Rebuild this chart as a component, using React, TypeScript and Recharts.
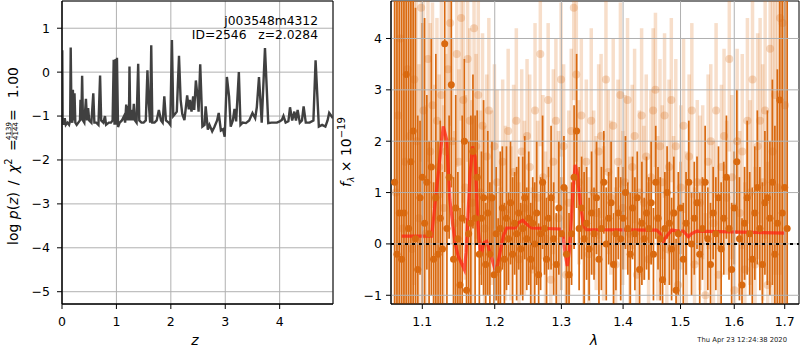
import React from 'react';
import {
  ComposedChart, LineChart, Line, Scatter, ErrorBar, XAxis, YAxis, CartesianGrid, ReferenceLine, ReferenceArea,
} from 'recharts';

const FONT = 'DejaVu Sans, sans-serif';
const ORANGE = '#d9690f';
const GRID = '#b0b0b0';

// ---- left panel: log p(z) ----
const zGrid = [
  0.0, 0.005, 0.012, 0.03, 0.05, 0.07, 0.1, 0.13, 0.15, 0.16,
  0.175, 0.19, 0.20, 0.215, 0.23, 0.245, 0.27, 0.3, 0.33, 0.34,
  0.355, 0.37, 0.385, 0.41, 0.44, 0.46, 0.48, 0.50, 0.54, 0.575,
  0.595, 0.63, 0.67, 0.70, 0.72, 0.76, 0.79, 0.81, 0.86, 0.90,
  0.93, 0.95, 0.965, 0.985, 0.995, 1.01, 1.03, 1.06, 1.1, 1.14,
  1.16, 1.18, 1.2, 1.215, 1.23, 1.24, 1.255, 1.28, 1.30, 1.32,
  1.34, 1.37, 1.40, 1.42, 1.46, 1.5, 1.54, 1.57, 1.59, 1.62,
  1.64, 1.66, 1.70, 1.74, 1.78, 1.82, 1.85, 1.88, 1.91, 1.96,
  1.99, 2.02, 2.045, 2.08, 2.11, 2.15, 2.18, 2.21, 2.25, 2.30,
  2.33, 2.35, 2.38, 2.41, 2.43, 2.46, 2.49, 2.51, 2.54, 2.58,
  2.62, 2.64, 2.68, 2.71, 2.76, 2.80, 2.85, 2.88, 2.92, 2.96,
  2.99, 3.03, 3.07, 3.10, 3.14, 3.17, 3.20, 3.25, 3.28, 3.32,
  3.38, 3.44, 3.50, 3.55, 3.58, 3.62, 3.67, 3.73, 3.79, 3.85,
  3.95, 4.0, 4.04, 4.07, 4.11, 4.16, 4.19, 4.23, 4.27, 4.30,
  4.33, 4.37, 4.41, 4.44, 4.48, 4.55, 4.62, 4.66, 4.72, 4.78,
  4.84, 4.88, 4.91, 4.95, 4.98,
];
const logPz = [
  -1.2, 0.5, -1.1, -1.2, -1.05, -1.2, -1.15, -1.2, -1.1, 0.56,
  -1.1, -1.15, -0.40, -1.1, -0.48, -1.15, -1.2, -1.15, -1.1, -0.63,
  -1.1, -0.08, -1.1, -1.15, -0.61, -1.1, -0.82, -1.1, -1.15, -0.48,
  -1.15, -1.15, -1.2, -0.08, -1.1, -1.15, -1.0, -1.2, -1.15, -1.15,
  -1.1, 0.28, -1.2, 0.30, -1.2, 0.33, -1.25, -1.15, -1.1, -1.0,
  -1.15, -0.74, -1.1, -0.77, -1.1, 0.13, -1.1, -0.86, -1.1, -0.72,
  -1.1, -1.15, 0.19, -1.1, -1.15, -1.15, -1.1, 0.04, -0.63, -1.15,
  0.61, -1.15, -1.15, -1.1, -0.86, -1.1, -1.15, -0.55, -1.1, -1.15,
  -1.2, 0.73, -1.0, -0.95, -0.9, 0.37, -0.63, -0.95, -1.09, -0.53,
  -0.85, -0.63, -0.9, -0.55, -0.86, -0.19, -0.55, -0.9, 0.18, -1.24,
  -1.2, -0.78, -1.31, -1.2, -1.35, -1.25, -1.1, -0.93, -1.33, -1.3,
  -1.47, -0.11, -0.55, -1.24, -1.1, -0.84, -1.12, 0.0, -1.2, -1.15,
  -1.16, -1.1, -0.93, -1.05, -0.8, -0.11, -1.15, 0.55, -1.16, -1.15,
  -1.15, -1.12, -1.09, -1.0, -1.15, -1.12, -0.8, -1.1, -0.9, -1.1,
  -0.86, -1.15, -1.1, -0.78, -1.15, -1.15, -1.1, 0.27, -1.24, -1.2,
  -1.24, -1.1, -0.93, -1.0, -1.05,
];
const zTicks = [0, 1, 2, 3, 4];
const lpTicks = [-5, -4, -3, -2, -1, 0, 1];

// ---- right panel: spectrum ----
const darkLam = [
  1.064, 1.067, 1.070, 1.073, 1.076, 1.079, 1.082, 1.085, 1.088, 1.091,
  1.094, 1.097, 1.100, 1.103, 1.106, 1.109, 1.112, 1.115, 1.118, 1.121,
  1.124, 1.127, 1.130, 1.133, 1.136, 1.139, 1.142, 1.145, 1.148, 1.151,
  1.154, 1.157, 1.160, 1.163, 1.166, 1.169, 1.172, 1.175, 1.178, 1.181,
  1.184, 1.187, 1.190, 1.193, 1.196, 1.199, 1.202, 1.205, 1.208, 1.211,
  1.214, 1.217, 1.220, 1.223, 1.226, 1.229, 1.232, 1.235, 1.238, 1.241,
  1.244, 1.247, 1.250, 1.253, 1.256, 1.259, 1.262, 1.265, 1.268, 1.271,
  1.274, 1.277, 1.280, 1.284, 1.288, 1.292, 1.296, 1.300, 1.304, 1.308,
  1.312, 1.316, 1.320, 1.324, 1.328, 1.332, 1.336, 1.340, 1.344, 1.348,
  1.352, 1.356, 1.360, 1.364, 1.368, 1.372, 1.376, 1.380, 1.384, 1.388,
  1.392, 1.396, 1.400, 1.404, 1.408, 1.412, 1.416, 1.420, 1.424, 1.428,
  1.432, 1.436, 1.440, 1.444, 1.448, 1.452, 1.456, 1.460, 1.464, 1.468,
  1.472, 1.476, 1.480, 1.484, 1.488, 1.492, 1.496, 1.500, 1.505, 1.510,
  1.515, 1.520, 1.525, 1.530, 1.535, 1.540, 1.545, 1.550, 1.555, 1.560,
  1.565, 1.570, 1.575, 1.580, 1.585, 1.590, 1.595, 1.600, 1.605, 1.610,
  1.615, 1.620, 1.625, 1.630, 1.635, 1.640, 1.645, 1.650, 1.655, 1.660,
  1.665, 1.670, 1.675, 1.680, 1.685, 1.690, 1.695, 1.700, 1.705,
];
const darkFlux = [
  1.2, -0.2, 0.6, -0.3, 0.6, 3.3, 0.3, 1.6, 2.2, 0.1,
  -0.5, 0.9, 1.3, 0.4, 1.2, 0.2, 1.5, -0.3, 0.9, -0.2,
  0.5, -0.1, 3.9, 0.3, 1.3, 3.1, -0.3, 0.7, 0.1, -0.8,
  0.5, 2.0, -0.9, 0.2, 0.4, 1.8, 0.5, 1.3, -0.2, 0.5,
  0.9, -0.4, 0.6, -0.2, 0.9, -0.6, 0.2, -0.5, 0.3, 0.7,
  -0.3, 0.5, 0.1, 0.8, -0.2, 0.4, 0.2, 0.6, -0.1, 0.3,
  0.9, 0.1, 0.5, -0.3, 0.4, 0.0, 0.6, -0.6, 0.2, 1.2,
  0.3, -0.3, 0.5, 0.9, 0.1, -0.4, 0.7, 0.2, 1.1, -0.2,
  -0.6, 0.2, 1.3, 2.2, 0.3, 0.7, 0.1, 0.4, -0.1, 0.6,
  0.2, 0.9, -0.3, 0.3, 1.2, 0.0, 0.5, 0.8, -0.4, 0.2,
  0.6, 0.1, 0.5, 1.0, 0.3, -0.2, 0.7, 0.2, 0.9, -0.5,
  0.4, 0.1, 0.6, 0.3, 0.8, -0.2, 1.2, 0.5, 0.1, -0.7,
  0.3, 1.0, 0.4, -0.1, 0.6, -0.9, 0.2, 0.7, -0.3, 0.4,
  1.2, 0.0, 0.5, 0.8, -0.2, 0.3, 1.2, 0.1, -0.4, 0.6,
  0.2, 0.9, -0.1, 0.5, 1.3, 0.3, -0.5, 0.7, 1.6, 0.1,
  -0.8, 0.4, 0.9, 0.2, -0.3, 0.6, 1.1, 0.3, -0.4, 0.8,
  0.9, 0.5, 1.2, -0.2, 0.4, 2.8, 0.6, 1.1, 0.3,
];
const darkErr = [
  6, 6, 5, 6, 5.5, 6, 5, 4, 5, 4.5,
  3, 1.5, 3, 4, 1.7, 1.8, 2.5, 1.5, 2.8, 2.2,
  1.9, 1.5, 2.5, 1.7, 1.2, 2.0, 1.6, 2.2, 1.3, 1.5,
  2.0, 1.6, 1.4, 1.8, 2.1, 1.5, 2.0, 1.3, 1.7, 1.3,
  1.9, 1.2, 1.6, 1.4, 1.1, 1.5, 1.3, 1.0, 1.5, 1.2,
  1.1, 1.4, 0.9, 1.2, 1.5, 1.0, 1.3, 1.1, 0.9, 1.4,
  1.2, 1.0, 1.3, 1.1, 0.9, 1.2, 1.4, 1.0, 1.1, 1.3,
  0.9, 1.2, 1.0, 1.4, 1.1, 1.0, 1.3, 1.1, 1.0, 1.3,
  1.2, 1.0, 1.4, 1.5, 1.2, 1.0, 1.3, 1.1, 1.0, 1.2,
  0.9, 1.1, 1.0, 1.2, 1.0, 1.1, 0.9, 1.2, 1.0, 1.1,
  0.9, 1.2, 1.0, 1.1, 0.9, 1.2, 1.0, 1.1, 0.9, 1.0,
  1.2, 0.8, 1.1, 1.0, 1.2, 0.9, 1.1, 1.0, 1.2, 1.0,
  1.1, 0.9, 1.2, 1.0, 1.1, 1.0, 1.2, 0.9, 1.1, 1.0,
  1.2, 1.0, 1.1, 0.9, 1.2, 1.0, 1.1, 1.0, 1.2, 0.9,
  1.1, 1.0, 1.3, 1.1, 1.2, 1.0, 1.3, 1.1, 1.4, 1.2,
  1.3, 1.1, 1.5, 1.2, 1.4, 1.3, 1.5, 1.2, 1.6, 1.4,
  1.7, 1.5, 2.0, 2.5, 3, 4, 5, 6, 6,
];

const lightLam = [
  1.0655, 1.0685, 1.0715, 1.0745, 1.0775, 1.0805, 1.0835, 1.0865, 1.0895, 1.0925,
  1.0955, 1.0985, 1.1015, 1.1045, 1.1075, 1.1105, 1.1135, 1.1165, 1.1195, 1.1225,
  1.1255, 1.1285, 1.1315, 1.1345, 1.1375, 1.1405, 1.1435, 1.1465, 1.1495, 1.1525,
  1.1555, 1.1585, 1.1615, 1.1645, 1.1675, 1.1705, 1.1735, 1.1765, 1.1795, 1.1825,
  1.1855, 1.1885, 1.1915, 1.1955, 1.1995, 1.2035, 1.2075, 1.2115, 1.2155, 1.2195,
  1.2235, 1.2275, 1.2315, 1.2355, 1.2395, 1.2435, 1.2475, 1.2515, 1.2555, 1.2595,
  1.2635, 1.2675, 1.2715, 1.2755, 1.2795, 1.2835, 1.2875, 1.2915, 1.2955, 1.2995,
  1.3035, 1.3075, 1.3115, 1.3155, 1.3195, 1.3235, 1.3275, 1.3315, 1.3355, 1.3395,
  1.3435, 1.3475, 1.3515, 1.3555, 1.3595, 1.3635, 1.3675, 1.3715, 1.3755, 1.3795,
  1.3835, 1.3875, 1.3915, 1.3955, 1.3995, 1.4035, 1.4075, 1.4115, 1.4155, 1.4195,
  1.4235, 1.4275, 1.4315, 1.4355, 1.4395, 1.4435, 1.4475, 1.4515, 1.4555, 1.4595,
  1.4635, 1.4675, 1.4715, 1.4755, 1.4795, 1.4835, 1.4875, 1.4915, 1.4955, 1.5005,
  1.5055, 1.5105, 1.5155, 1.5205, 1.5255, 1.5305, 1.5355, 1.5405, 1.5455, 1.5505,
  1.5555, 1.5605, 1.5655, 1.5705, 1.5755, 1.5805, 1.5855, 1.5905, 1.5955, 1.6005,
  1.6055, 1.6105, 1.6155, 1.6205, 1.6255, 1.6305, 1.6355, 1.6405, 1.6455, 1.6505,
  1.6555, 1.6605, 1.6655, 1.6705, 1.6755, 1.6805, 1.6855, 1.6905, 1.6955, 1.7005,
];
const lightFlux = [
  1.0, 2.5, 4.0, 0.3, 1.6, 3.4, 2.1, -0.1, 3.2, 2.0,
  0.5, 4.6, 2.6, 0.2, 3.6, 1.8, 2.7, 0.9, 2.4, 1.5,
  2.9, 0.7, 1.8, 3.4, 4.3, 2.0, 0.4, 3.7, 1.6, 4.4,
  2.8, 1.1, 3.6, 2.4, 0.8, 4.2, 1.9, 2.9, 1.0, 2.3,
  0.3, 1.7, 2.6, 0.9, 1.9, 1.2, -0.4, 1.6, 0.6, 2.2,
  0.4, 1.4, 2.4, -0.3, 1.8, 0.7, 2.1, 1.5, -0.5, 2.6,
  0.9, 3.7, 1.3, 0.1, 2.8, -0.7, 1.6, 2.4, 0.5, 3.2,
  1.9, -0.6, 0.8, 2.2, 4.6, 3.3, 1.2, 2.5, 0.3, 1.6,
  -0.2, 2.4, 1.0, 0.6, 1.8, 2.1, 0.4, 3.2, 1.4, 0.9,
  2.3, -0.4, 1.6, 2.9, 0.7, 1.2, 2.8, 0.2, 1.5, 2.1,
  -0.6, 1.0, 2.5, 0.8, 1.7, -0.3, 1.3, 2.6, 3.0, 0.5,
  1.9, 1.2, 2.5, -0.1, 1.5, 2.8, 0.6, 1.9, -0.8, 1.1,
  2.3, 0.3, 1.7, 2.6, -0.4, 1.2, 0.8, 1.2, -1.0, 1.6,
  2.0, 0.4, 2.6, -0.6, 1.5, 2.1, 0.9, 3.6, 1.3, -0.9,
  2.0, 0.6, 1.8, -0.5, 2.4, 1.0, 3.2, -0.4, 1.9, 2.4,
  1.2, 2.6, -0.8, 3.8, 1.8, 2.9, 1.1, 4.4, 4.3, 2.7,
];
const lightErr = [
  6, 6, 6, 6, 6, 5, 5, 5, 4, 4,
  3, 3, 2.5, 2.5, 2, 2.5, 2, 2.2, 2, 1.8,
  2, 2, 1.9, 2, 2, 2, 1.8, 2.2, 1.8, 2,
  2, 1.8, 2, 1.8, 2, 2.5, 1.8, 2, 1.6, 1.8,
  2, 1.6, 1.8, 1.7, 1.6, 1.8, 1.5, 1.6, 1.7, 1.6,
  1.5, 1.7, 1.8, 1.5, 1.6, 1.7, 1.5, 1.8, 1.6, 1.7,
  1.5, 1.8, 1.6, 1.7, 1.5, 1.6, 1.8, 1.6, 1.7, 1.5,
  1.6, 1.7, 1.8, 1.6, 1.8, 1.7, 1.6, 1.5, 1.7, 1.6,
  1.5, 1.8, 1.6, 1.5, 1.7, 1.6, 1.5, 1.8, 1.6, 1.5,
  1.7, 1.5, 1.6, 1.8, 1.5, 1.7, 1.6, 1.5, 1.6, 1.7,
  1.5, 1.6, 1.7, 1.5, 1.6, 1.5, 1.7, 1.6, 1.5, 1.6,
  1.7, 1.5, 1.6, 1.5, 1.7, 1.6, 1.5, 1.7, 1.5, 1.6,
  1.7, 1.5, 1.6, 1.7, 1.5, 1.6, 1.7, 1.5, 1.6, 1.7,
  1.5, 1.6, 1.7, 1.5, 1.6, 1.7, 1.5, 1.8, 1.6, 1.7,
  1.8, 1.6, 1.9, 1.7, 2.0, 1.8, 2.1, 1.9, 2.2, 2.0,
  2.3, 2.5, 2.4, 2.8, 3, 3.5, 4, 5, 6, 6,
];

const modelLam = [
  1.073, 1.1124, 1.128, 1.1327, 1.137, 1.144, 1.1485, 1.157, 1.1594, 1.165,
  1.1685, 1.172, 1.1762, 1.18, 1.1845, 1.1884, 1.1932, 1.2018, 1.2076, 1.2124,
  1.2173, 1.2296, 1.2344, 1.2410, 1.2470, 1.2544, 1.2978, 1.302, 1.3056, 1.3092,
  1.3123, 1.316, 1.3186, 1.3218, 1.325, 1.3303, 1.3355, 1.3398, 1.4574, 1.4634,
  1.4693, 1.4753, 1.4843, 1.4962, 1.5052, 1.5142, 1.5204, 1.5297, 1.7005,
];
const modelFlux = [
  0.15, 0.15, 2.29, 2.03, 0.86, 0.02, -0.24, -0.5, -0.17, 1.38,
  1.9, 1.7, 0.34, -0.24, 0.02, 0.05, -0.17, -0.56, -0.17, 0.15,
  0.31, 0.31, 0.41, 0.46, 0.38, 0.31, 0.29, 0.21, -0.17, -0.43,
  -0.17, 0.54, 1.12, 1.54, 1.38, 0.73, 0.34, 0.28, 0.27, 0.21,
  0.05, 0.15, 0.27, 0.25, 0.25, 0.14, 0.2, 0.25, 0.21,
];
const lamTicks = [1.1, 1.2, 1.3, 1.4, 1.5, 1.6, 1.7];
const fTicks = [-1, 0, 1, 2, 3, 4];

const Z_DOM: [number, number] = [0, 4.98];
const LP_DOM: [number, number] = [-5.28, 1.62];
const LAM_DOM: [number, number] = [1.0594, 1.7294];
const F_DOM: [number, number] = [-1.17, 4.73];

function zip3(lam: number[], f: number[], e: number[]) {
  const n = Math.min(lam.length, f.length, e.length);
  const out = [];
  for (let i = 0; i < n; i++) out.push({ lam: lam[i], f: f[i], e: e[i] });
  return out;
}

const pzData = zGrid.slice(0, logPz.length).map((z, i) => ({ z, lp: logPz[i] }));
const darkData = zip3(darkLam, darkFlux, darkErr);
const lightData = zip3(lightLam, lightFlux, lightErr);
const modelData = modelLam.map((lam, i) => ({ lam, f: modelFlux[i] }));

// error bars are not clipped by the plot area, so trim them to the visible y range
const clippedErr = (d: { f: number; e: number }) => [
  Math.max(0, Math.min(d.e, d.f - F_DOM[0])),
  Math.max(0, Math.min(d.e, F_DOM[1] - d.f)),
];

const fmtMinus = (v: number) => (v < 0 ? `\u2212${Math.abs(v)}` : `${v}`);
const tickStyle = { fill: '#000', fontSize: 12.5, fontFamily: FONT };
const axisStyle = { stroke: '#000' };

const darkDot = (p: any) => <circle cx={p.cx} cy={p.cy} r={3.5} fill={ORANGE} />;
const lightDot = (p: any) => <circle cx={p.cx} cy={p.cy} r={4} fill="rgba(217,105,15,0.25)" />;

export default function App() {
  return (
    <div style={{ position: 'relative', width: 800, height: 350, background: '#fff', fontFamily: FONT }}>
      <style>{'body{margin:0}'}</style>

      <div style={{ position: 'absolute', left: 0, top: 0 }}>
        <LineChart width={340} height={350} data={pzData} margin={{ top: 1, right: 7, bottom: 16, left: 0 }}>
          <CartesianGrid stroke={GRID} />
          <XAxis
            dataKey="z" type="number" domain={Z_DOM} ticks={zTicks} allowDataOverflow interval={0}
            height={30} tick={tickStyle} tickLine={axisStyle} axisLine={axisStyle} tickSize={5} tickMargin={8}
          />
          <YAxis
            type="number" domain={LP_DOM} ticks={lpTicks} allowDataOverflow interval={0}
            width={62} tick={tickStyle} tickLine={axisStyle} axisLine={axisStyle} tickSize={5} tickMargin={7}
            tickFormatter={fmtMinus}
          />
          <Line dataKey="lp" type="linear" stroke="#404040" strokeWidth={2.4} dot={false} isAnimationActive={false} />
          <ReferenceArea x1={Z_DOM[0]} x2={Z_DOM[1]} y1={LP_DOM[0]} y2={LP_DOM[1]} fill="none" stroke="#000" ifOverflow="visible" />
        </LineChart>
      </div>

      <div style={{ position: 'absolute', left: 340, top: 0 }}>
        <ComposedChart width={460} height={350} margin={{ top: 1, right: 1, bottom: 16, left: 0 }}>
          <XAxis
            dataKey="lam" type="number" scale="log" domain={LAM_DOM} ticks={lamTicks} allowDataOverflow interval={0}
            height={30} tick={tickStyle} tickLine={axisStyle} axisLine={axisStyle} tickSize={5} tickMargin={8}
            tickFormatter={(v: number) => v.toFixed(1)}
          />
          <YAxis
            dataKey="f" type="number" domain={F_DOM} ticks={fTicks} allowDataOverflow interval={0}
            width={51} tick={tickStyle} tickLine={axisStyle} axisLine={axisStyle} tickSize={5} tickMargin={4}
            tickFormatter={fmtMinus}
          />
          <Scatter data={lightData} shape={lightDot} isAnimationActive={false}>
            <ErrorBar dataKey={clippedErr} direction="y" width={0} stroke="rgba(217,105,15,0.22)" strokeWidth={3.5} isAnimationActive={false} />
          </Scatter>
          <Scatter data={darkData} shape={darkDot} isAnimationActive={false}>
            <ErrorBar dataKey={clippedErr} direction="y" width={0} stroke={ORANGE} strokeWidth={1.7} isAnimationActive={false} />
          </Scatter>
          <Line data={modelData} dataKey="f" type="linear" stroke="#ff2010" strokeOpacity={0.72} strokeWidth={3.2} dot={false} isAnimationActive={false} />
          {lamTicks.map(t => <ReferenceLine key={`vx${t}`} x={t} stroke={GRID} strokeWidth={1} />)}
          {fTicks.map(t => <ReferenceLine key={`hy${t}`} y={t} stroke={GRID} strokeWidth={1} />)}
          <ReferenceLine y={0} stroke="#000" strokeWidth={2} strokeDasharray="3 4" />
          <ReferenceArea x1={LAM_DOM[0]} x2={LAM_DOM[1]} y1={F_DOM[0]} y2={F_DOM[1]} fill="none" stroke="#000" ifOverflow="visible" />
        </ComposedChart>
      </div>

      <svg width={800} height={350} style={{ position: 'absolute', left: 0, top: 0, pointerEvents: 'none' }} fontFamily={FONT}>
        {/* left y label, laid out like matplotlib mathtext */}
        <g transform="translate(17.5,245) rotate(-90)" fill="#000" fontSize={14}>
          <text x={0} y={0}>log <tspan fontStyle="italic">p</tspan>(<tspan fontStyle="italic">z</tspan>)</text>
          <text x={62} y={0} textAnchor="middle">/</text>
          <text x={72} y={0}>
            <tspan fontStyle="italic">χ</tspan><tspan fontSize={10} dy={-6}>2</tspan>
          </text>
          <text x={100} y={0} textAnchor="middle">=</text>
          <text x={114} y={-6.8} fontSize={7} textAnchor="middle">4139</text>
          <line x1={107} x2={121} y1={-5.4} y2={-5.4} stroke="#000" strokeWidth={0.6} />
          <text x={114} y={0.5} fontSize={7} textAnchor="middle">4144</text>
          <text x={130} y={0} textAnchor="middle">=</text>
          <text x={178} y={0} textAnchor="end">1.00</text>
        </g>
        <text x={195} y={345} fontSize={14} fontStyle="italic" textAnchor="middle">z</text>
        <text x={318} y={24.5} fontSize={12.3} textAnchor="end">j003548m4312</text>
        <text x={318} y={38.5} fontSize={12.3} textAnchor="end" style={{ whiteSpace: 'pre' }}>ID=2546   z=2.0284</text>

        {/* right y label */}
        <g transform="translate(351,187) rotate(-90)" fill="#000">
          <text x={0} y={0} fontSize={14}>
            <tspan fontStyle="italic">f</tspan>
            <tspan fontSize={9} dy={3} fontStyle="italic">λ</tspan>
            <tspan dy={-3}> × 10</tspan>
            <tspan fontSize={10} dy={-6}>−19</tspan>
          </text>
        </g>
        <text x={594} y={345} fontSize={14} fontStyle="italic" textAnchor="middle">λ</text>
        <text x={787} y={342} fontSize={6.8} textAnchor="end" fill="#222">Thu Apr 23 12:24:38 2020</text>
      </svg>
    </div>
  );
}
